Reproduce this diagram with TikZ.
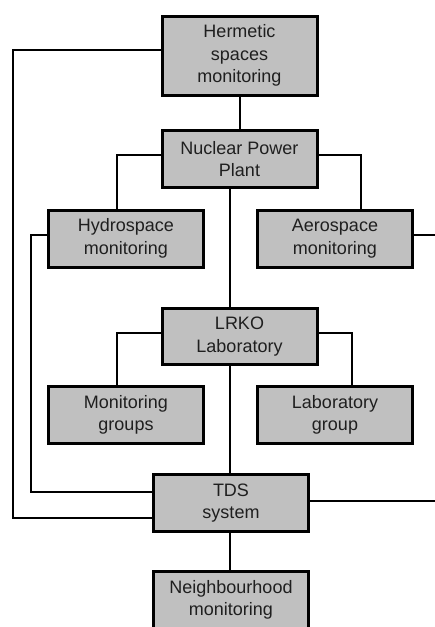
\documentclass[tikz,border=0pt]{standalone}
\usepackage{fontspec}
\setmainfont{Liberation Sans}
\begin{document}
\begin{tikzpicture}[x=1pt,y=-1pt,
  box/.style={draw=black,line width=3pt,fill=boxgray,minimum width=155pt,minimum height=57pt,
    inner sep=0pt,align=center,font=\fontsize{18}{22.5}\selectfont,text=black!88},
  conn/.style={line width=2pt}]
\definecolor{boxgray}{HTML}{C0C0C0}
\useasboundingbox (0,0) rectangle (435,627);
\clip (0,0) rectangle (435,627);
% nodes
\node[box,minimum height=79pt] (H) at (239.5,55.5) {Hermetic\\spaces\\monitoring};
\node[box] (N) at (239.5,159) {Nuclear Power\\Plant};
\node[box] (Hy) at (126,238.5) {Hydrospace\\monitoring};
\node[box] (A) at (335,238.5) {Aerospace\\monitoring};
\node[box,minimum height=56pt] (L) at (239.5,336.5) {LRKO\\Laboratory};
\node[box] (M) at (126,415) {Monitoring\\groups};
\node[box] (G) at (335,415) {Laboratory\\group};
\node[box] (T) at (231,503) {TDS\\system};
\node[box] (Nb) at (231,600) {Neighbourhood\\monitoring};
% coordinates
\coordinate (c1) at (13,50);
\coordinate (c2) at (13,518);
\coordinate (n1) at (117,155);
\coordinate (n2) at (361,155);
\coordinate (n3) at (230,0);
\coordinate (h1) at (31,235);
\coordinate (h2) at (31,492);
\coordinate (a1) at (436,235);
\coordinate (l1) at (117,333);
\coordinate (l2) at (352,333);
\coordinate (t1) at (436,501);
% connectors
\draw[conn] (H.south) -- (N.north);
\draw[conn] (H.west |- c1) -- (c1) -- (c2) -- (T.west |- c2);
\draw[conn] (N.west |- n1) -- (n1) -- (n1 |- Hy.north);
\draw[conn] (N.east |- n2) -- (n2) -- (n2 |- A.north);
\draw[conn] (N.south -| n3) -- (L.north -| n3);
\draw[conn] (Hy.west |- h1) -- (h1) -- (h2) -- (T.west |- h2);
\draw[conn] (A.east |- a1) -- (a1);
\draw[conn] (L.west |- l1) -- (l1) -- (l1 |- M.north);
\draw[conn] (L.east |- l2) -- (l2) -- (l2 |- G.north);
\draw[conn] (L.south -| n3) -- (T.north -| n3);
\draw[conn] (T.east |- t1) -- (t1);
\draw[conn] (T.south -| n3) -- (Nb.north -| n3);
\end{tikzpicture}
\end{document}
